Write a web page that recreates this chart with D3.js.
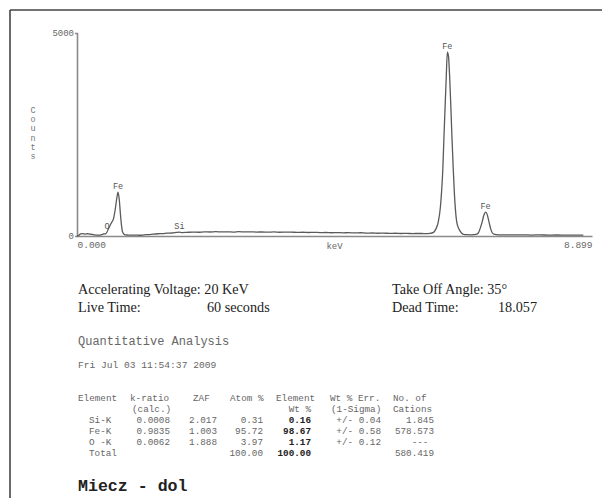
<!DOCTYPE html>
<html><head><meta charset="utf-8">
<script src="https://cdn.jsdelivr.net/npm/d3@7"></script>
<style>body{margin:0;background:#fff}svg{display:block}</style>
</head><body>
<svg id="c" width="602" height="498"></svg>
<script>
// ---- data ----
const energyKeV = [0.00,0.03,0.06,0.10,0.14,0.18,0.22,0.26,0.30,0.34,0.38,0.42,0.46,0.50,0.55,0.60,0.63,0.66,0.69,0.71,0.73,0.75,0.77,0.79,0.82,0.86,0.92,1.00,1.08,1.16,1.24,1.32,1.40,1.48,1.56,1.64,1.72,1.76,1.82,1.90,2.00,2.10,2.20,2.30,2.40,2.50,2.60,2.70,2.80,2.90,3.00,3.10,3.20,3.30,3.40,3.50,3.60,3.70,3.80,3.90,4.00,4.10,4.20,4.30,4.40,4.50,4.60,4.70,4.80,4.90,5.00,5.10,5.20,5.30,5.40,5.50,5.60,5.70,5.80,5.90,6.00,6.10,6.16,6.20,6.24,6.28,6.30,6.32,6.34,6.36,6.38,6.40,6.42,6.44,6.46,6.48,6.50,6.52,6.56,6.60,6.64,6.68,6.74,6.80,6.86,6.91,6.94,6.97,7.00,7.03,7.06,7.09,7.12,7.15,7.18,7.22,7.28,7.40,7.55,7.70,7.85,8.00,8.15,8.30,8.45,8.60,8.75,8.899];
const counts = [0,15,50,58,48,55,46,40,30,24,20,28,50,60,200,340,420,650,950,1080,900,550,250,90,35,25,20,22,18,28,36,48,56,60,70,74,88,95,84,90,96,92,102,98,106,100,104,96,108,100,103,97,99,94,100,92,94,96,88,92,86,90,84,86,80,84,78,82,76,80,72,74,68,70,65,68,62,64,60,62,60,66,90,170,330,720,1100,1600,2400,3150,3900,4530,4420,3900,3180,2400,1700,1080,360,170,80,40,32,30,34,45,90,200,340,510,590,520,340,170,70,38,30,28,26,30,24,27,23,25,22,24,20];
const peakNames = ["O","Fe","Si","Fe","Fe"];
const peakEnergies = [0.52,0.71,1.77,6.40,7.06];
const peakCounts = [80,1080,95,4530,590];
const xTicks = [0, 8.899];
const yTicks = [0, 5000];

const tableHeader1 = ["Element","k-ratio","ZAF","Atom %","Element","Wt % Err.","No. of"];
const tableHeader2 = ["","(calc.)","","","Wt %","(1-Sigma)","Cations"];
const elements = ["Si-K","Fe-K","O -K"];
const kRatio = ["0.0008","0.9835","0.0062"];
const zaf = ["2.017","1.003","1.888"];
const atomPct = ["0.31","95.72","3.97"];
const wtPct = ["0.16","98.67","1.17"];
const wtErr = ["+/- 0.04","+/- 0.58","+/- 0.12"];
const cations = ["1.845","578.573","---"];
const totalRow = ["Total","","","100.00","100.00","","580.419"];

// ---- drawing ----
const svg = d3.select("#c");
const mono = "'Liberation Mono','Courier New',monospace";
const serif = "'Liberation Serif','Times New Roman',serif";

// frame
svg.append("line").attr("x1",10).attr("x2",602).attr("y1",10).attr("y2",10).attr("stroke","#444").attr("stroke-width",1.6);
svg.append("line").attr("x1",10).attr("x2",10).attr("y1",10).attr("y2",498).attr("stroke","#444").attr("stroke-width",1.6);

const x = d3.scaleLinear().domain([0, 8.899]).range([77, 592]);
const y = d3.scaleLinear().domain([0, 5000]).range([236, 33]);

// x axis
const gx = svg.append("g").attr("transform","translate(0,236)")
  .call(d3.axisBottom(x).tickValues(xTicks).tickFormat(d3.format(".3f")).tickSize(0).tickPadding(5));
gx.select(".domain").attr("stroke","#8a8a8a").attr("stroke-width",1.6);
gx.selectAll("text").attr("font-family",mono).attr("font-size",9.5).attr("fill","#666")
  .attr("text-anchor",(d,i)=> i===0 ? "start" : "end");
svg.append("text").attr("x",(x.range()[0]+x.range()[1])/2).attr("y",249).attr("text-anchor","middle")
  .attr("font-family",mono).attr("font-size",9).attr("fill","#666").text("keV");

// y axis
const gy = svg.append("g").attr("transform","translate(77,0)")
  .call(d3.axisLeft(y).tickValues(yTicks).tickFormat(d3.format("d")).tickSize(2).tickPadding(1));
gy.select(".domain").attr("stroke","#8a8a8a").attr("stroke-width",1.6);
gy.selectAll(".tick line").attr("stroke","#8a8a8a");
gy.selectAll("text").attr("font-family",mono).attr("font-size",9).attr("fill","#666");

// "Counts" stacked vertically
const lab = "Counts".split("");
svg.append("g").selectAll("text").data(lab).join("text")
  .attr("x",33).attr("y",(d,i)=>113+i*9.2).attr("text-anchor","middle")
  .attr("font-family",mono).attr("font-size",8.5).attr("fill","#777").text(d=>d);

// spectrum
const pts = energyKeV.map((e,i)=>[e,counts[i]]);
svg.append("path").datum(pts)
  .attr("d", d3.line().x(d=>x(d[0])).y(d=>y(d[1])).curve(d3.curveMonotoneX))
  .attr("fill","none").attr("stroke","#5a5a5a").attr("stroke-width",1.3);

// peak labels
svg.append("g").selectAll("text").data(peakNames).join("text")
  .attr("x",(d,i)=>x(peakEnergies[i])).attr("y",(d,i)=>y(peakCounts[i])-3.5)
  .attr("text-anchor","middle").attr("font-family",mono).attr("font-size",8.5).attr("fill","#555").text(d=>d);

// acquisition info (serif)
const info = svg.append("g").attr("font-family",serif).attr("font-size",14.2).attr("fill","#222");
info.append("text").attr("x",78).attr("y",294).text("Accelerating Voltage: 20 KeV");
info.append("text").attr("x",78).attr("y",312).text("Live Time:");
info.append("text").attr("x",207).attr("y",312).text("60 seconds");
info.append("text").attr("x",392).attr("y",294).text("Take Off Angle: 35°");
info.append("text").attr("x",392).attr("y",312).text("Dead Time:");
info.append("text").attr("x",498).attr("y",312).text("18.057");

svg.append("text").attr("x",78).attr("y",345).attr("font-family",mono).attr("font-size",12).attr("fill","#666").text("Quantitative Analysis");
svg.append("text").attr("x",78).attr("y",368).attr("font-family",mono).attr("font-size",9.6).attr("fill","#666").text("Fri Jul 03 11:54:37 2009");

// table
const tfs = 9.3;
const rowY = [401,412,423,434,445,456];
const headX = [78,130,193,230,276,330,393];
const headAnchor = ["start","start","start","start","start","start","start"];
const colRight = [null,170,217,263,311,381,434];
const tbl = svg.append("g").attr("font-family",mono).attr("font-size",tfs).attr("fill","#666");
tableHeader1.forEach((t,i)=> tbl.append("text").attr("x",headX[i]).attr("y",rowY[0]).text(t));
const h2x = [78,132,193,230,311,331,393];
tableHeader2.forEach((t,i)=>{ if(t) tbl.append("text").attr("x",h2x[i]).attr("y",rowY[1]).attr("text-anchor", i===4?"end":"start").text(t); });
const cols = [kRatio, zaf, atomPct, wtPct, wtErr, cations];
elements.forEach((el,r)=>{
  const yy = rowY[2+r];
  tbl.append("text").attr("x",89).attr("y",yy).text(el);
  cols.forEach((col,c)=>{
    const v = col[r];
    const isCat = c===5 && v==="---";
    const t = tbl.append("text").attr("x", isCat ? 420 : colRight[c+1]).attr("y",yy)
      .attr("text-anchor", isCat ? "middle" : "end").text(v);
    if(c===3) t.attr("font-weight","bold").attr("fill","#222");
  });
});
totalRow.forEach((v,c)=>{
  if(!v) return;
  const yy = rowY[5];
  if(c===0){ tbl.append("text").attr("x",89).attr("y",yy).text(v); return; }
  const t = tbl.append("text").attr("x",colRight[c]).attr("y",yy).attr("text-anchor","end").text(v);
  if(c===4) t.attr("font-weight","bold").attr("fill","#222");
});

svg.append("text").attr("x",78).attr("y",491).attr("font-family",mono).attr("font-size",16.6)
  .attr("font-weight","bold").attr("fill","#222").text("Miecz - dol");
</script>
</body></html>
